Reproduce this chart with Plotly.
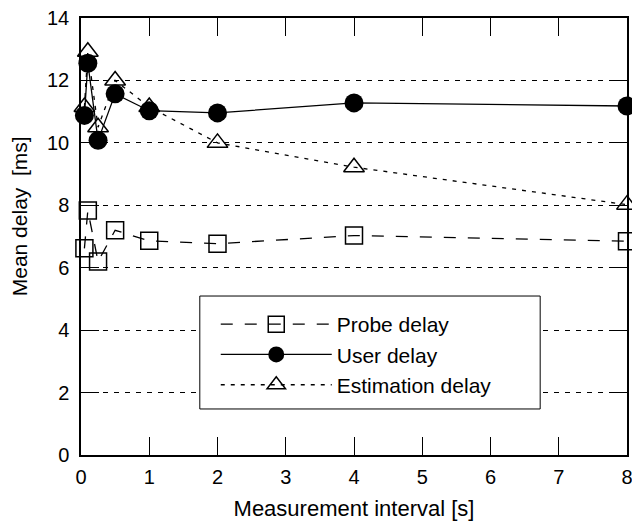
import plotly.graph_objects as go

# Measurement intervals (s) and mean delays (ms)
interval = [0.05, 0.1, 0.25, 0.5, 1, 2, 4, 8]
probe_delay = [6.62, 7.83, 6.2, 7.2, 6.86, 6.77, 7.03, 6.85]
user_delay = [10.88, 12.55, 10.08, 11.57, 11.03, 10.96, 11.28, 11.18]
estimation_delay = [11.15, 12.92, 10.5, 12.0, 11.15, 10.0, 9.22, 8.02]

x_ticks = [0, 1, 2, 3, 4, 5, 6, 7, 8]
y_ticks = [0, 2, 4, 6, 8, 10, 12, 14]

FONT = "Liberation Sans, Arial, sans-serif"

fig = go.Figure()
fig.add_trace(go.Scatter(
    x=interval, y=probe_delay, name="Probe delay", mode="lines+markers",
    line=dict(color="black", width=1.3, dash="12px,12px"),
    marker=dict(symbol="square-open", size=17, color="black", line=dict(width=1.5, color="black")),
    cliponaxis=False,
))
fig.add_trace(go.Scatter(
    x=interval, y=user_delay, name="User delay", mode="lines+markers",
    line=dict(color="black", width=1.3),
    marker=dict(symbol="circle", size=19, color="black"),
    cliponaxis=False,
))
fig.add_trace(go.Scatter(
    x=interval, y=estimation_delay, name="Estimation delay", mode="lines+markers",
    line=dict(color="black", width=1.3, dash="4px,6px"),
    marker=dict(symbol="triangle-up-open", size=18, color="black", line=dict(width=1.5, color="black")),
    cliponaxis=False,
))

axis_common = dict(
    showline=True, linecolor="black", linewidth=1.5, mirror="ticks",
    ticks="inside", ticklen=18, tickwidth=1.4, tickcolor="black",
    tickfont=dict(family=FONT, size=20, color="black"), zeroline=False,
    automargin=False, ticklabeloverflow="allow",
)

fig.update_layout(
    width=632, height=521,
    margin=dict(l=81, r=5, t=18, b=66),
    paper_bgcolor="white", plot_bgcolor="white",
    font=dict(family=FONT, color="black"),
    xaxis=dict(
        range=[0, 8], tickvals=x_ticks, showgrid=False, ticklabelstandoff=3,
        title=dict(text="Measurement interval [s]", font=dict(family=FONT, size=22), standoff=25),
        **axis_common,
    ),
    yaxis=dict(
        range=[0, 14], tickvals=y_ticks, showgrid=True,
        gridcolor="black", gridwidth=1, griddash="5px,6px", ticklabelstandoff=6,
        **axis_common,
    ),
    annotations=[dict(
        text="Mean delay  [ms]", textangle=-90, showarrow=False,
        xref="paper", yref="paper", x=-0.112, y=0.546,
        xanchor="center", yanchor="middle",
        font=dict(family=FONT, size=21, color="black"),
    )],
    # Legend frame: white panel over the gridlines, entries placed inside it
    shapes=[dict(
        type="rect", xref="paper", yref="paper",
        x0=0.2176, x1=0.841, y0=0.1053, y1=0.3638,
        line=dict(color="black", width=1), fillcolor="white", layer="above",
    )],
    legend=dict(
        x=0.2468, y=0.3455, xanchor="left", yanchor="top",
        borderwidth=0, bgcolor="rgba(0,0,0,0)",
        font=dict(family=FONT, size=21), itemwidth=111,
        tracegroupgap=0,
    ),
    showlegend=True,
)

fig.write_html("out.html")
